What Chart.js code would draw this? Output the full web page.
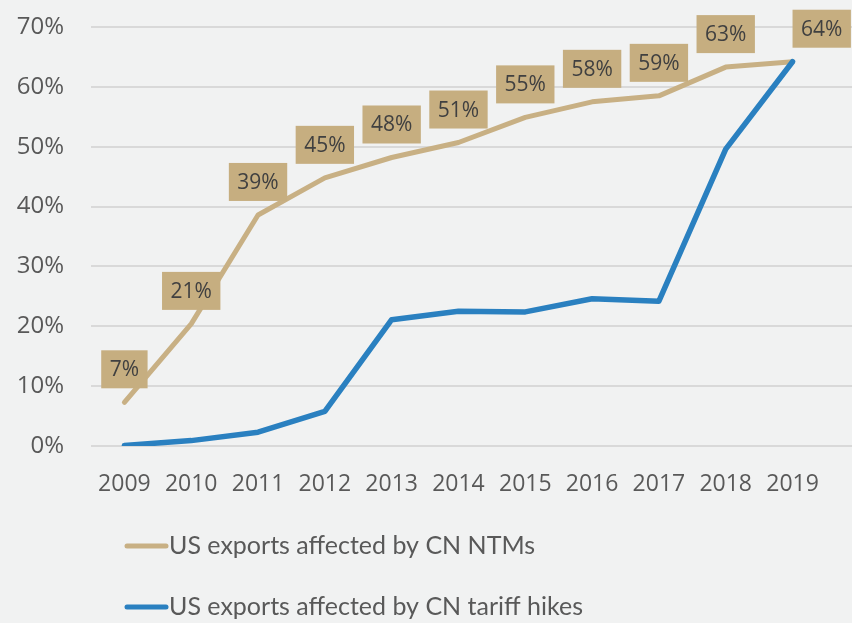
<!DOCTYPE html>
<html>
<head>
<meta charset="utf-8">
<script src="https://cdn.jsdelivr.net/npm/chart.js@4.4.0/dist/chart.umd.min.js"></script>
<style>
html, body { margin: 0; padding: 0; background: #f1f2f2; }
#wrap { width: 852px; height: 623px; }
</style>
</head>
<body>
<div id="wrap"><canvas id="myChart"></canvas></div>
<script>
var years = [2009, 2010, 2011, 2012, 2013, 2014, 2015, 2016, 2017, 2018, 2019];
var ntmShare = [7.3, 20.4, 38.6, 44.8, 48.2, 50.7, 54.9, 57.5, 58.5, 63.3, 64.2];
var tariffShare = [0.1, 0.9, 2.3, 5.8, 21.1, 22.5, 22.4, 24.6, 24.2, 49.6, 64.2];
var ntmLabels = ['7%', '21%', '39%', '45%', '48%', '51%', '55%', '58%', '59%', '63%', '64%'];
var yTicks = [0, 10, 20, 30, 40, 50, 60, 70];

var tanColor = '#c8b084';
var blueColor = '#2a80c0';
var textColor = '#595959';

function toPoints(values) {
    return years.map(function(y, i) { return { x: y, y: values[i] }; });
}

// etykiety w beżowych ramkach nad linią NTM
var boxLabels = {
    id: 'boxLabels',
    afterDatasetsDraw: function(chart) {
        var meta = chart.getDatasetMeta(0);
        var c = chart.ctx;
        c.save();
        c.font = '21px "Open Sans"';
        c.textAlign = 'center';
        c.textBaseline = 'middle';
        meta.data.forEach(function(pt, i) {
            var text = ntmLabels[i];
            var w = c.measureText(text).width + 17;
            var h = 38;
            var cx = pt.x;
            if (i === meta.data.length - 1) cx = pt.x + w / 2; // ostatnia przesunięta w prawo
            var cy = pt.y - 33;
            c.fillStyle = '#c6ae80';
            c.fillRect(cx - w / 2, cy - h / 2, w, h);
            c.fillStyle = '#404040';
            c.fillText(text, cx, cy + 1);
        });
        c.restore();
    }
};

// legenda w dwóch wierszach, wyrównana do lewej
var stackedLegend = {
    id: 'stackedLegend',
    afterDraw: function(chart) {
        var c = chart.ctx;
        var rows = [546, 607];
        c.save();
        c.font = '25px Lato';
        c.textAlign = 'left';
        c.textBaseline = 'middle';
        chart.data.datasets.forEach(function(ds, i) {
            var y = rows[i];
            c.strokeStyle = ds.borderColor;
            c.lineWidth = 5;
            c.lineCap = 'round';
            c.beginPath();
            c.moveTo(127, y);
            c.lineTo(166, y);
            c.stroke();
            c.fillStyle = textColor;
            c.fillText(ds.label, 169, y);
        });
        c.restore();
    }
};

var ctx = document.getElementById('myChart').getContext('2d');
var myChart = new Chart(ctx, {
    type: 'line',
    data: {
        datasets: [{
            label: 'US exports affected by CN NTMs',
            data: toPoints(ntmShare),
            borderColor: tanColor,
            backgroundColor: tanColor,
            borderWidth: 5,
            borderCapStyle: 'round',
            borderJoinStyle: 'round',
            pointRadius: 0,
            order: 1
        }, {
            label: 'US exports affected by CN tariff hikes',
            data: toPoints(tariffShare),
            borderColor: blueColor,
            backgroundColor: blueColor,
            borderWidth: 5.5,
            borderCapStyle: 'round',
            borderJoinStyle: 'round',
            pointRadius: 0,
            order: 0
        }]
    },
    options: {
        responsive: true,
        maintainAspectRatio: false,
        animation: false,
        layout: { padding: { top: 27, right: 0, bottom: 0, left: 0 } },
        plugins: {
            legend: { display: false },
            tooltip: { enabled: false }
        },
        scales: {
            x: {
                type: 'linear',
                min: 2008.5,
                max: 2019.89,
                grid: { display: false },
                border: { display: false },
                afterBuildTicks: function(scale) {
                    scale.ticks = years.map(function(y) { return { value: y }; });
                },
                afterFit: function(scale) {
                    scale.height = 177;
                    scale.paddingLeft = 0;
                    scale.paddingRight = 0;
                    scale.paddingTop = 0;
                    scale.paddingBottom = 0;
                },
                ticks: {
                    callback: function(v) { return String(v); },
                    font: { family: 'Open Sans', size: 23 },
                    color: textColor,
                    padding: 17,
                    maxRotation: 0,
                    autoSkip: false
                }
            },
            y: {
                min: 0,
                max: 70,
                afterBuildTicks: function(scale) {
                    scale.ticks = yTicks.map(function(v) { return { value: v }; });
                },
                afterFit: function(scale) {
                    scale.width = 91;
                    scale.paddingTop = 0;
                    scale.paddingBottom = 0;
                },
                grid: { color: '#d9d9d9', lineWidth: 2, drawTicks: false },
                border: { display: false },
                ticks: {
                    callback: function(v) { return v + '%'; },
                    font: { family: 'Open Sans', size: 24 },
                    color: textColor,
                    padding: 27
                }
            }
        }
    },
    plugins: [boxLabels, stackedLegend]
});
</script>
</body>
</html>
